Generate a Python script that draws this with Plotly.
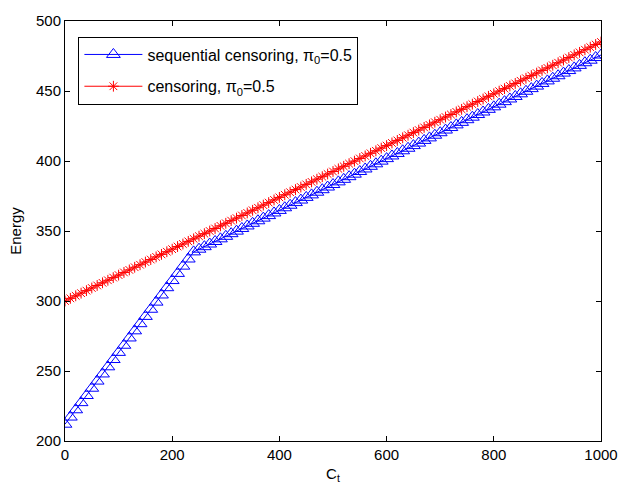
import plotly.graph_objects as go

# Cost threshold C_t (0 to 1000 in steps of 10)
c_t = list(range(0, 1001, 10))

# Energy for sequential censoring, pi_0 = 0.5
energy_sequential = [
    212.0, 217.1, 222.3, 227.4, 232.5, 237.7, 242.8, 247.9, 253.0, 258.2,
    263.3, 268.4, 273.6, 278.7, 283.8, 289.0, 294.1, 299.2, 304.3, 309.5,
    314.6, 319.7, 324.9, 330.0, 335.1, 337.0, 338.8, 340.7, 342.5, 344.4,
    346.2, 348.1, 349.9, 351.8, 353.6, 355.5, 357.3, 359.2, 361.0, 362.9,
    364.7, 366.6, 368.4, 370.3, 372.1, 374.0, 375.8, 377.7, 379.5, 381.4,
    383.2, 385.1, 386.9, 388.8, 390.6, 392.5, 394.3, 396.2, 398.0, 399.9,
    401.7, 403.6, 405.4, 407.3, 409.1, 411.0, 412.8, 414.7, 416.5, 418.4,
    420.2, 422.1, 423.9, 425.8, 427.6, 429.5, 431.3, 433.2, 435.0, 436.9,
    438.7, 440.6, 442.4, 444.3, 446.1, 448.0, 449.8, 451.7, 453.5, 455.4,
    457.2, 459.1, 460.9, 462.8, 464.6, 466.5, 468.3, 470.2, 472.0, 473.9,
    475.7,
]

# Energy for censoring, pi_0 = 0.5
energy_censoring = [
    300.0, 301.9, 303.7, 305.6, 307.4, 309.3, 311.1, 313.0, 314.8, 316.7,
    318.5, 320.4, 322.2, 324.1, 325.9, 327.8, 329.6, 331.5, 333.3, 335.2,
    337.0, 338.9, 340.7, 342.6, 344.4, 346.3, 348.1, 350.0, 351.8, 353.7,
    355.5, 357.4, 359.2, 361.1, 362.9, 364.8, 366.6, 368.5, 370.3, 372.2,
    374.0, 375.9, 377.7, 379.6, 381.4, 383.3, 385.1, 387.0, 388.8, 390.7,
    392.5, 394.4, 396.2, 398.1, 399.9, 401.8, 403.6, 405.5, 407.3, 409.2,
    411.0, 412.9, 414.7, 416.6, 418.4, 420.3, 422.1, 424.0, 425.8, 427.7,
    429.5, 431.4, 433.2, 435.1, 436.9, 438.8, 440.6, 442.5, 444.3, 446.2,
    448.0, 449.9, 451.7, 453.6, 455.4, 457.3, 459.1, 461.0, 462.8, 464.7,
    466.5, 468.4, 470.2, 472.1, 473.9, 475.8, 477.6, 479.5, 481.3, 483.2,
    485.0,
]

x_ticks = [0, 200, 400, 600, 800, 1000]
y_ticks = [200, 250, 300, 350, 400, 450, 500]

FONT = "Liberation Sans, Arial, Helvetica, sans-serif"

fig = go.Figure()
fig.add_trace(go.Scatter(
    x=c_t, y=energy_sequential, mode="lines+markers",
    name="sequential censoring, π<sub>0</sub>=0.5",
    legendgroup="seq",
    line=dict(color="#0000ff", width=1),
    marker=dict(symbol="triangle-up-open", size=12, color="#0000ff",
                line=dict(width=1, color="#0000ff")),
))
fig.add_trace(go.Scatter(
    x=c_t, y=energy_censoring, mode="lines+markers",
    name="censoring, π<sub>0</sub>=0.5",
    legendgroup="cens",
    line=dict(color="#ff0000", width=1),
    marker=dict(symbol="asterisk-open", size=9, color="#ff0000",
                line=dict(width=1, color="#ff0000")),
))

axis_common = dict(
    showgrid=False, zeroline=False,
    showline=True, linecolor="black", linewidth=1, mirror="ticks",
    ticks="inside", ticklen=5, tickcolor="black", tickwidth=1,
    tickfont=dict(family=FONT, size=15, color="black"),
)

fig.update_xaxes(range=[0, 1000], tickvals=x_ticks,
                 title=dict(text="C<sub>t</sub>", font=dict(family=FONT, size=15, color="black"), standoff=6),
                 **axis_common)
fig.update_yaxes(range=[200, 500], tickvals=y_ticks,
                 title=dict(text="Energy", font=dict(family=FONT, size=15, color="black"), standoff=10),
                 **axis_common)

fig.update_layout(
    width=630, height=492,
    margin=dict(l=65, r=20, t=14, b=49),
    paper_bgcolor="white", plot_bgcolor="white",
    font=dict(family=FONT, size=15, color="black"),
    showlegend=True,
    legend=dict(
        x=0.025, y=0.963, xanchor="left", yanchor="top",
        bgcolor="white", bordercolor="black", borderwidth=1,
        font=dict(family=FONT, size=16, color="black"),
        traceorder="grouped", tracegroupgap=8,
        itemwidth=58, entrywidth=262,
    ),
)

fig.write_html("out.html")
